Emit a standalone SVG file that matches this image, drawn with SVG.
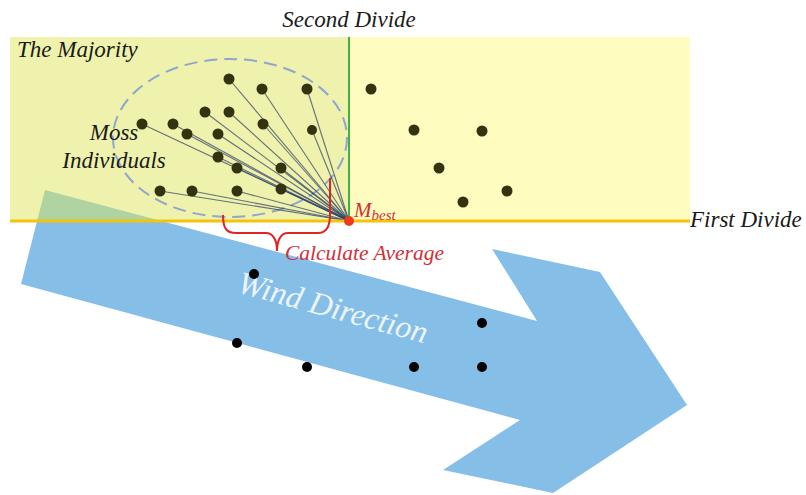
<svg xmlns="http://www.w3.org/2000/svg" width="806" height="495" viewBox="0 0 806 495">
<style>
  text { font-family: "Liberation Serif", "DejaVu Serif", "Noto Serif", serif; font-style: italic; }
  .t { fill: #1a1a1a; font-size: 23px; }
  .red { fill: #d0303a; }
  .dd { fill: #33330f; }
  .bd { fill: #000000; }
  .ln { stroke: #34456a; stroke-opacity: 0.75; stroke-width: 1.1; fill: none; }
</style>
<rect width="806" height="495" fill="#ffffff"/>
<g id="wind-arrow">
  <polygon points="45,190 537,321 492,249 600,272 687,405 553,493 443,470 520,420 21,284" fill="#85bfe8"/>
  <text x="0" y="0" font-size="32" fill="#eef4fb" transform="translate(236,292) rotate(15.3)">Wind Direction</text>
</g>
<g id="regions">
  <rect x="10" y="37" width="339" height="184" fill="#dde65a" fill-opacity="0.5"/>
  <rect x="349" y="37" width="341" height="184" fill="#fdf980" fill-opacity="0.5"/>
</g>
<g id="ellipse">
  <ellipse cx="230" cy="138" rx="117" ry="79" fill="none" stroke="#8fa6cf" stroke-width="2" stroke-dasharray="13,7"/>
</g>
<g id="connectors">
  <line class="ln" x1="229" y1="79" x2="349" y2="221"/>
  <line class="ln" x1="262" y1="89" x2="349" y2="221"/>
  <line class="ln" x1="307" y1="89" x2="349" y2="221"/>
  <line class="ln" x1="205" y1="112" x2="349" y2="221"/>
  <line class="ln" x1="229" y1="112" x2="349" y2="221"/>
  <line class="ln" x1="142" y1="124" x2="349" y2="221"/>
  <line class="ln" x1="173" y1="124" x2="349" y2="221"/>
  <line class="ln" x1="187" y1="134" x2="349" y2="221"/>
  <line class="ln" x1="218" y1="134" x2="349" y2="221"/>
  <line class="ln" x1="263" y1="124" x2="349" y2="221"/>
  <line class="ln" x1="312" y1="130" x2="349" y2="221"/>
  <line class="ln" x1="218" y1="157" x2="349" y2="221"/>
  <line class="ln" x1="237" y1="168" x2="349" y2="221"/>
  <line class="ln" x1="281" y1="168" x2="349" y2="221"/>
  <line class="ln" x1="160" y1="191" x2="349" y2="221"/>
  <line class="ln" x1="192" y1="191" x2="349" y2="221"/>
  <line class="ln" x1="237" y1="191" x2="349" y2="221"/>
  <line class="ln" x1="281" y1="189" x2="349" y2="221"/>
</g>
<g id="divides">
  <line x1="349" y1="37" x2="349" y2="221" stroke="#3fb23f" stroke-width="2"/>
  <line x1="10" y1="221" x2="690" y2="221" stroke="#f2c40c" stroke-width="3"/>
</g>
<g id="moss-left">
  <circle class="dd" cx="229" cy="79" r="5.5"/>
  <circle class="dd" cx="262" cy="89" r="5.5"/>
  <circle class="dd" cx="307" cy="89" r="5.5"/>
  <circle class="dd" cx="205" cy="112" r="5.5"/>
  <circle class="dd" cx="229" cy="112" r="5.5"/>
  <circle class="dd" cx="142" cy="124" r="5.5"/>
  <circle class="dd" cx="173" cy="124" r="5.5"/>
  <circle class="dd" cx="187" cy="134" r="5.5"/>
  <circle class="dd" cx="218" cy="134" r="5.5"/>
  <circle class="dd" cx="263" cy="124" r="5.5"/>
  <circle class="dd" cx="312" cy="130" r="5"/>
  <circle class="dd" cx="218" cy="157" r="5.5"/>
  <circle class="dd" cx="237" cy="168" r="5.5"/>
  <circle class="dd" cx="281" cy="168" r="5.5"/>
  <circle class="dd" cx="160" cy="191" r="5.5"/>
  <circle class="dd" cx="192" cy="191" r="5.5"/>
  <circle class="dd" cx="237" cy="191" r="5.5"/>
  <circle class="dd" cx="281" cy="189" r="5.5"/>
</g>
<g id="moss-right">
  <circle class="dd" cx="371" cy="89" r="5.5"/>
  <circle class="dd" cx="414" cy="130" r="5.5"/>
  <circle class="dd" cx="482" cy="131" r="5.5"/>
  <circle class="dd" cx="439" cy="168" r="5.5"/>
  <circle class="dd" cx="507" cy="191" r="5.5"/>
  <circle class="dd" cx="463" cy="202" r="5.5"/>
</g>
<g id="moss-lower">
  <circle class="bd" cx="254" cy="274" r="5"/>
  <circle class="bd" cx="237" cy="343" r="5"/>
  <circle class="bd" cx="307" cy="367" r="5"/>
  <circle class="bd" cx="414" cy="367" r="5"/>
  <circle class="bd" cx="482" cy="323" r="5"/>
  <circle class="bd" cx="482" cy="367" r="5"/>
</g>
<g id="mbest">
  <circle cx="349" cy="221" r="5" fill="#f03a1e"/>
  <text class="red" x="354" y="217" font-size="21">M<tspan font-size="15" dy="3">best</tspan></text>
</g>
<g id="brace">
  <path d="M223,215 C223,228 226,233 236,233 L266,233 C273,233 277,240 277,251 C277,240 281,233 288,233 L318,233 C327,233 330,226 330,215 L330,178" fill="none" stroke="#e02424" stroke-width="2"/>
  <text class="red" x="285" y="260" font-size="21.5">Calculate Average</text>
</g>
<g id="labels">
  <text class="t" x="349" y="27" text-anchor="middle">Second Divide</text>
  <text class="t" x="17" y="57">The Majority</text>
  <text class="t" x="114" y="140" text-anchor="middle">Moss</text>
  <text class="t" x="114" y="168" text-anchor="middle">Individuals</text>
  <text class="t" x="690" y="227">First Divide</text>
</g>
</svg>
